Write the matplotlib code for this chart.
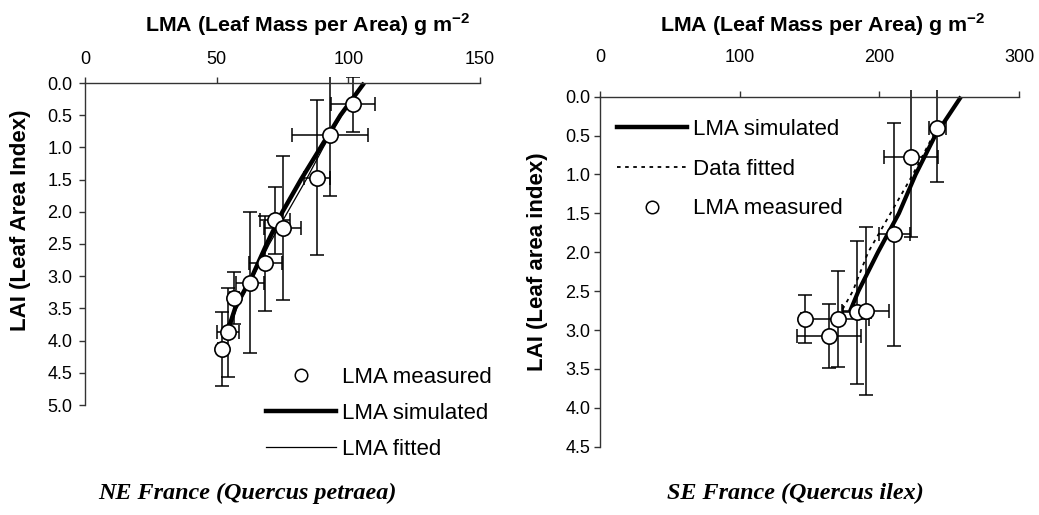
import matplotlib
matplotlib.use("Agg")
import matplotlib.pyplot as plt
from matplotlib.lines import Line2D

plt.rcParams['font.family'] = ['Liberation Sans', 'DejaVu Sans']
plt.rcParams['mathtext.fontset'] = 'custom'
plt.rcParams['mathtext.rm'] = 'Liberation Sans'
plt.rcParams['mathtext.bf'] = 'Liberation Sans:bold'

# NE France (Quercus petraea)
ne_lma = [101.9, 93.0, 88.0, 72.3, 75.0, 68.4, 62.7, 56.7, 54.2, 51.9]
ne_lai = [0.33, 0.80, 1.47, 2.13, 2.25, 2.80, 3.10, 3.34, 3.87, 4.13]
ne_xerr = [8.3, 14.4, 5.0, 5.7, 7.0, 6.3, 5.4, 1.6, 4.2, 1.5]
ne_yerr = [0.43, 0.95, 1.20, 0.52, 1.12, 0.74, 1.10, 0.40, 0.69, 0.58]
ne_sim_lai = [0.0, 0.5, 1.0, 1.5, 2.0, 2.5, 3.0, 3.3, 3.5, 3.75]
ne_sim_lma = [106.0, 97.0, 89.5, 82.0, 75.0, 69.0, 63.5, 59.5, 57.0, 55.0]
ne_fit_lai = [0.0, 0.5, 1.0, 1.5, 2.0, 2.5, 3.0, 3.3, 3.5, 3.75]
ne_fit_lma = [105.5, 97.5, 90.5, 84.0, 77.0, 70.0, 64.0, 60.0, 57.5, 55.5]

# SE France (Quercus ilex)
se_lma = [241.5, 222.6, 210.7, 146.7, 164.1, 170.6, 183.7, 190.2]
se_lai = [0.40, 0.77, 1.77, 2.86, 3.08, 2.86, 2.77, 2.75]
se_xerr = [6.0, 19.5, 11.0, 3.0, 22.7, 22.0, 10.0, 17.0]
se_yerr = [0.70, 1.03, 1.43, 0.31, 0.41, 0.62, 0.92, 1.08]
se_sim_lai = [0.0, 0.5, 1.0, 1.5, 2.0, 2.5, 2.76]
se_sim_lma = [258.5, 240.0, 226.0, 214.0, 199.0, 185.0, 179.0]
se_fit_lai = [0.38, 1.0, 1.5, 2.0, 2.5, 2.85]
se_fit_lma = [242.0, 224.0, 208.0, 192.0, 181.0, 170.0]

W, H = 1039, 515
fig = plt.figure(figsize=(W / 100, H / 100), dpi=100)


def px_axes(x0, x1, ytop, ybot):
    return [x0 / W, 1 - ybot / H, (x1 - x0) / W, (ybot - ytop) / H]


spine_col = '#333333'


def style(ax, xmax, ymax, ytop, xpad, ypad):
    ax.set_xlim(0, xmax)
    ax.set_ylim(ymax, ytop)
    ax.xaxis.tick_top()
    ax.spines['right'].set_visible(False)
    ax.spines['bottom'].set_visible(False)
    ax.spines['top'].set_position(('data', 0))
    ax.spines['left'].set_bounds(0, ymax)
    for s in ['top', 'left']:
        ax.spines[s].set_color(spine_col)
        ax.spines[s].set_linewidth(1.0)
    ax.tick_params(direction='out', length=4, width=1.0, color=spine_col,
                   labelsize=13)
    ax.tick_params(axis='x', pad=xpad)
    ax.tick_params(axis='y', pad=ypad)


# left panel: 64.4 px per LAI unit, axis at y=83
ax1 = fig.add_axes(px_axes(85, 480, 83 - 0.1 * 64.4, 405))
style(ax1, 150, 5.0, -0.1, 7, 5)
ax1.set_xticks([0, 50, 100, 150])
ax1.set_yticks([0, 0.5, 1, 1.5, 2, 2.5, 3, 3.5, 4, 4.5, 5])
ax1.set_yticklabels(['%.1f' % v for v in ax1.get_yticks()])
ax1.errorbar(ne_lma, ne_lai, xerr=ne_xerr, yerr=ne_yerr, fmt='none',
             ecolor='black', elinewidth=1.1, capsize=5, capthick=1.1)
ax1.plot(ne_sim_lma, ne_sim_lai, color='black', lw=3.2, solid_capstyle='butt')
ax1.plot(ne_fit_lma, ne_fit_lai, color='black', lw=0.9)
ax1.plot(ne_lma, ne_lai, 'o', ms=11, mfc='white', mec='black', mew=1.2, clip_on=False)

h_meas = Line2D([], [], ls='none', marker='o', ms=9, mfc='white', mec='black', mew=1.1)
h_sim = Line2D([], [], color='black', lw=3.2)
h_fit = Line2D([], [], color='black', lw=0.9)
h_dot = Line2D([], [], color='black', lw=1.3, ls=(0, (2, 2.5)))

fig.legend([h_meas, h_sim, h_fit], ['LMA measured', 'LMA simulated', 'LMA fitted'],
           loc='upper left', bbox_to_anchor=(266 / W, 1 - 367 / H), frameon=False,
           fontsize=16, handlelength=3.15, handletextpad=0.25, labelspacing=0.68,
           borderpad=0, borderaxespad=0)

# right panel: 77.8 px per LAI unit, axis at y=96.7
ax2 = fig.add_axes(px_axes(600, 1019, 96.7 - 0.09 * 77.8, 446.7))
style(ax2, 300, 4.5, -0.09, 18, 3)
ax2.set_xticks([0, 100, 200, 300])
ax2.set_yticks([0, 0.5, 1, 1.5, 2, 2.5, 3, 3.5, 4, 4.5])
ax2.set_yticklabels(['%.1f' % v for v in ax2.get_yticks()])
ax2.errorbar(se_lma, se_lai, xerr=se_xerr, yerr=se_yerr, fmt='none',
             ecolor='black', elinewidth=1.1, capsize=5, capthick=1.1)
ax2.plot(se_fit_lma, se_fit_lai, color='black', lw=1.3, ls=(0, (2, 2.5)))
ax2.plot(se_sim_lma, se_sim_lai, color='black', lw=3.0, solid_capstyle='butt')
ax2.plot(se_lma, se_lai, 'o', ms=11, mfc='white', mec='black', mew=1.2, clip_on=False)
ax2.legend([h_sim, h_dot, h_meas], ['LMA simulated', 'Data fitted', 'LMA measured'],
           loc='upper left', bbox_to_anchor=(617 / W, 1 - 119 / H),
           bbox_transform=fig.transFigure, frameon=False,
           fontsize=16, handlelength=3.15, handletextpad=0.25, labelspacing=0.84,
           borderpad=0, borderaxespad=0)

title = r'LMA (Leaf Mass per Area) g m$^{\mathbf{-2}}$'
fig.text(308 / W, 1 - 25 / H, title, ha='center', va='center', fontsize=15.4, fontweight='bold')
fig.text(823 / W, 1 - 25 / H, title, ha='center', va='center', fontsize=15.4, fontweight='bold')
fig.text(21 / W, 1 - 220 / H, 'LAI (Leaf Area Index)', ha='center', va='center',
         rotation=90, fontsize=16, fontweight='bold')
fig.text(537 / W, 1 - 262 / H, 'LAI (Leaf area index)', ha='center', va='center',
         rotation=90, fontsize=16, fontweight='bold')

fig.text(247 / W, 1 - 493 / H, 'NE France (Quercus petraea)', ha='center', va='center',
         fontsize=17.4, fontweight='bold', style='italic', family='Liberation Serif')
fig.text(795 / W, 1 - 493 / H, 'SE France (Quercus ilex)', ha='center', va='center',
         fontsize=17.4, fontweight='bold', style='italic', family='Liberation Serif')

fig.savefig('out.png', dpi=100)
